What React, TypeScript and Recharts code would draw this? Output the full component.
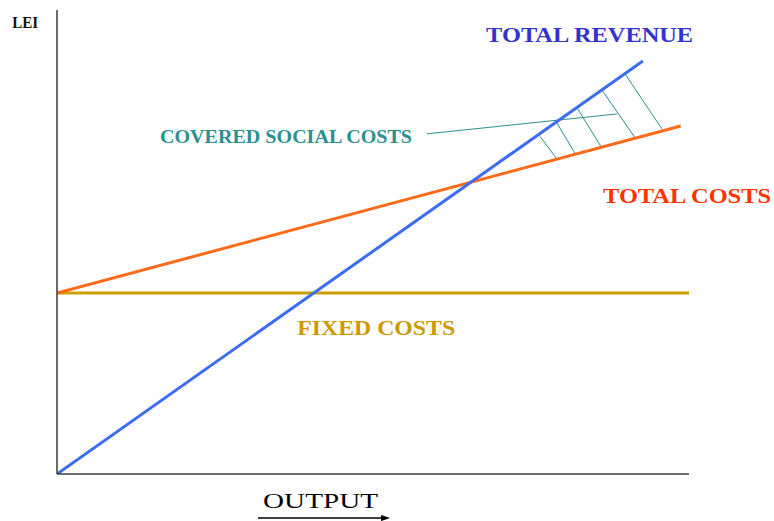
import React from 'react';
import { ComposedChart, Line, XAxis, YAxis, ReferenceLine, ReferenceDot } from 'recharts';

// output (x) and LEI (y), both on a 0..100 scale
const revenuePoints = [
  { q: 0, v: 0 },
  { q: 92.7, v: 89.0 }
];
const totalCostPoints = [
  { q: 0, v: 39.0 },
  { q: 98.7, v: 75.0 }
];
const fixedCostPoints = [
  { q: 0, v: 39.0 },
  { q: 100, v: 39.0 }
];

// hatching between revenue and total costs: [q1, v1, q2, v2]
const hatchSegments = [
  [76.4, 72.8, 79.0, 68.1],
  [79.0, 75.9, 82.0, 69.0],
  [82.3, 78.9, 86.1, 70.5],
  [86.2, 82.8, 91.5, 72.4],
  [89.9, 86.2, 95.7, 74.4]
];
const pointerSegment = [58.5, 73.3, 88.6, 77.6];
const outputArrow = [31.8, -9.5, 52.7, -9.5];

type Note = {
  text: string;
  q: number;
  v: number;
  color: string;
  size: number;
  bold: boolean;
  length?: number;
};

const notes: Note[] = [
  { text: 'LEI', q: -7.1, v: 96.1, color: '#111', size: 16, bold: true, length: 26 },
  { text: 'TOTAL REVENUE', q: 67.9, v: 93.1, color: '#3333cc', size: 21, bold: true, length: 207 },
  { text: 'COVERED SOCIAL COSTS', q: 16.3, v: 71.3, color: '#2a9090', size: 18, bold: true, length: 252 },
  { text: 'TOTAL COSTS', q: 86.4, v: 58.4, color: '#ff3300', size: 22, bold: true, length: 168 },
  { text: 'FIXED COSTS', q: 38.0, v: 30.0, color: '#cc9900', size: 22, bold: true, length: 158 },
  { text: 'OUTPUT', q: 32.6, v: -7.3, color: '#000', size: 22, bold: false, length: 115 }
];

const SERIF = '"Liberation Serif", "Times New Roman", serif';

function noteLabel(note: Note) {
  return (props: { viewBox?: { x: number; y: number; width: number } }) => {
    const vb = props.viewBox;
    if (!vb) {
      return null;
    }
    return (
      <text
        x={vb.x + vb.width / 2}
        y={vb.y + vb.width / 2}
        fill={note.color}
        fontSize={note.size}
        fontWeight={note.bold ? 700 : 400}
        fontFamily={SERIF}
        textLength={note.length}
        lengthAdjust="spacingAndGlyphs"
      >
        {note.text}
      </text>
    );
  };
}

function ArrowShape(props: { x1?: number; y1?: number; x2?: number; y2?: number }) {
  const { x1 = 0, y1 = 0, x2 = 0, y2 = 0 } = props;
  return (
    <g>
      <line x1={x1} y1={y1} x2={x2 - 6} y2={y2} stroke="#000" strokeWidth={1.5} />
      <polygon points={`${x2},${y2} ${x2 - 9},${y2 - 3} ${x2 - 9},${y2 + 3}`} fill="#000" />
    </g>
  );
}

export default function App() {
  return (
    <div style={{ position: 'fixed', left: 0, top: 0, background: '#fff', width: 774, height: 521 }}>
      <ComposedChart width={774} height={521} margin={{ top: 10, right: 85, bottom: 46, left: 56 }}>
        <XAxis
          type="number"
          dataKey="q"
          domain={[0, 100]}
          allowDataOverflow
          height={1}
          tick={false}
          tickLine={false}
          axisLine={{ stroke: '#3a3a3a', strokeWidth: 1.5 }}
        />
        <YAxis
          type="number"
          dataKey="v"
          domain={[0, 100]}
          allowDataOverflow
          width={1}
          tick={false}
          tickLine={false}
          axisLine={{ stroke: '#3a3a3a', strokeWidth: 1.5 }}
        />

        {hatchSegments.map((s, i) => (
          <ReferenceLine
            key={`hatch-${i}`}
            segment={[{ x: s[0], y: s[1] }, { x: s[2], y: s[3] }]}
            stroke="#2a9090"
            strokeWidth={1}
            ifOverflow="visible"
          />
        ))}
        <ReferenceLine
          segment={[{ x: pointerSegment[0], y: pointerSegment[1] }, { x: pointerSegment[2], y: pointerSegment[3] }]}
          stroke="#2a9090"
          strokeWidth={1}
          ifOverflow="visible"
        />

        <Line data={fixedCostPoints} dataKey="v" type="linear" stroke="#c9a000" strokeWidth={3} dot={false} isAnimationActive={false} />
        <Line data={totalCostPoints} dataKey="v" type="linear" stroke="#ff6a1a" strokeWidth={3} dot={false} isAnimationActive={false} />
        <Line data={revenuePoints} dataKey="v" type="linear" stroke="#3d6cf0" strokeWidth={3} dot={false} isAnimationActive={false} />

        <ReferenceLine
          segment={[{ x: outputArrow[0], y: outputArrow[1] }, { x: outputArrow[2], y: outputArrow[3] }]}
          ifOverflow="visible"
          shape={ArrowShape}
        />

        {notes.map(note => (
          <ReferenceDot
            key={note.text}
            x={note.q}
            y={note.v}
            r={1}
            fill="none"
            stroke="none"
            ifOverflow="visible"
            label={noteLabel(note)}
          />
        ))}
      </ComposedChart>
    </div>
  );
}
